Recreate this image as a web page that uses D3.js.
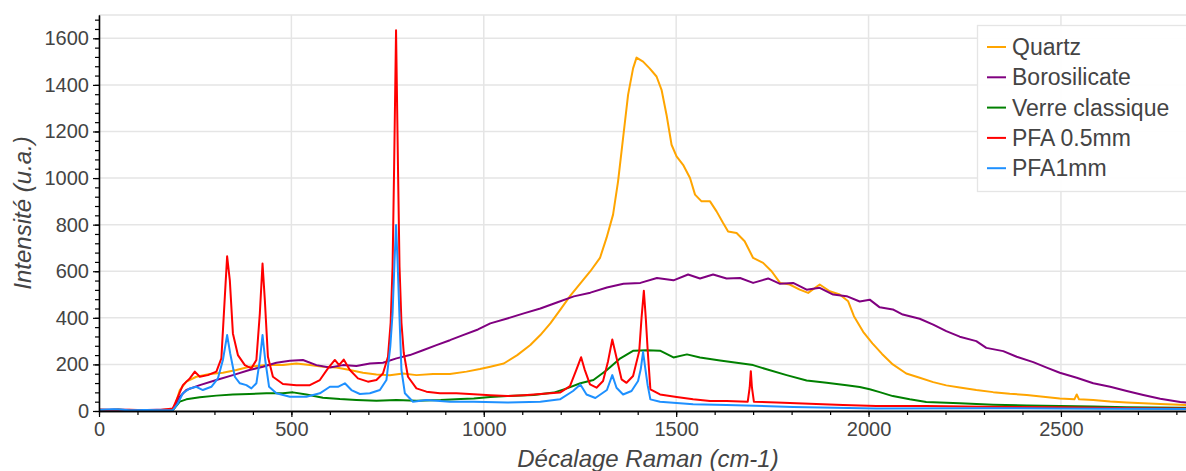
<!DOCTYPE html>
<html><head><meta charset="utf-8">
<script src="https://cdn.jsdelivr.net/npm/d3@7"></script>
<style>
html,body{margin:0;padding:0;background:#fff;}
svg{display:block;}
text{font-family:"Liberation Sans",Arial,Helvetica,sans-serif;}
</style></head>
<body><svg id="chart" width="1186" height="471"></svg>
<script>
// ---------- data ----------
const seriesNames = ["Quartz", "Borosilicate", "Verre classique", "PFA 0.5mm", "PFA1mm"];
const seriesColors = ["#FFA500", "#800080", "#008000", "#FF0000", "#1E90FF"];

const quartz = [[0,5],[50,3],[100,4],[150,3],[185,6],[195,10],[210,90],[227,126],[253,147],[288,159],[322,164],[357,176],[391,190],[435,197],[478,197],[513,204],[548,197],[582,190],[617,187],[652,176],[686,164],[721,157],[756,153],[790,161],[825,154],[868,159],[912,159],[955,169],[990,180],[1017,190],[1052,204],[1087,240],[1121,283],[1147,326],[1173,376],[1199,435],[1225,495],[1251,548],[1277,600],[1302,657],[1319,743],[1336,843],[1349,986],[1362,1171],[1375,1357],[1388,1471],[1397,1517],[1414,1500],[1431,1471],[1449,1436],[1462,1379],[1475,1271],[1488,1143],[1501,1093],[1518,1057],[1536,1000],[1549,929],[1566,900],[1588,900],[1605,857],[1622,807],[1635,771],[1657,764],[1678,729],[1700,657],[1726,636],[1748,600],[1770,550],[1795,543],[1821,521],[1843,507],[1873,543],[1899,514],[1925,500],[1947,471],[1962,407],[1986,340],[2010,290],[2035,245],[2063,200],[2098,161],[2133,143],[2168,124],[2202,110],[2237,101],[2280,90],[2324,81],[2367,74],[2411,69],[2454,61],[2497,54],[2535,50],[2541,71],[2547,50],[2584,47],[2628,41],[2671,37],[2714,33],[2758,30],[2810,27],[2840,25]];

const borosilicate = [[0,4],[50,6],[100,3],[150,5],[190,5],[210,61],[227,90],[262,111],[305,133],[348,154],[391,176],[426,190],[461,207],[496,216],[530,219],[565,197],[600,187],[634,197],[669,193],[704,204],[738,207],[773,226],[808,240],[842,261],[877,283],[912,304],[946,326],[985,350],[1017,376],[1061,397],[1104,419],[1147,440],[1190,466],[1234,492],[1277,508],[1320,530],[1363,546],[1407,550],[1450,571],[1493,561],[1531,586],[1562,569],[1596,586],[1631,569],[1666,571],[1700,550],[1739,569],[1770,546],[1804,550],[1839,521],[1873,529],[1908,500],[1943,493],[1977,470],[2003,478],[2029,445],[2063,436],[2089,414],[2133,396],[2168,371],[2202,343],[2237,319],[2280,300],[2306,271],[2350,257],[2385,233],[2428,210],[2463,186],[2497,164],[2541,143],[2584,119],[2628,104],[2671,86],[2714,69],[2758,53],[2810,39],[2840,35]];

const verreClassique = [[0,3],[50,5],[100,2],[150,4],[192,4],[210,40],[227,50],[262,59],[305,66],[348,71],[391,73],[435,76],[478,76],[504,80],[539,71],[582,57],[626,51],[669,47],[721,44],[773,47],[825,44],[888,47],[940,52],[974,54],[1017,60],[1061,64],[1130,69],[1182,79],[1216,97],[1251,119],[1285,133],[1320,176],[1355,226],[1389,259],[1424,261],[1458,259],[1493,230],[1528,243],[1562,230],[1614,217],[1657,207],[1700,197],[1735,179],[1787,154],[1839,131],[1891,121],[1943,111],[1977,103],[2003,93],[2029,81],[2063,64],[2107,50],[2150,39],[2237,33],[2324,27],[2411,24],[2497,21],[2584,19],[2671,16],[2810,14],[2840,14]];

const pfa05 = [[0,6],[40,3],[80,5],[120,3],[160,4],[192,11],[205,61],[218,111],[236,140],[249,169],[262,147],[283,154],[305,169],[318,226],[327,490],[333,664],[340,561],[348,333],[361,240],[379,197],[396,183],[409,219],[418,419],[425,633],[431,476],[439,233],[452,147],[478,116],[513,111],[548,111],[574,133],[595,183],[613,219],[624,197],[636,221],[652,176],[673,140],[699,126],[721,133],[738,161],[751,233],[758,380],[763,620],[767,1050],[772,1635],[777,1050],[781,620],[786,380],[792,250],[803,147],[825,97],[851,83],[886,76],[929,76],[974,72],[1017,68],[1061,64],[1104,68],[1147,73],[1198,79],[1224,107],[1241,179],[1253,231],[1262,179],[1276,114],[1293,100],[1310,129],[1323,214],[1334,307],[1345,229],[1358,136],[1371,121],[1388,150],[1404,257],[1410,400],[1416,516],[1421,400],[1426,260],[1433,93],[1458,71],[1501,60],[1544,50],[1588,43],[1631,43],[1686,40],[1691,100],[1694,171],[1697,100],[1702,40],[1761,36],[1847,31],[1934,26],[2020,21],[2150,21],[2300,18],[2500,16],[2700,12],[2840,10]];

const pfa1 = [[0,5],[40,7],[80,3],[120,4],[160,3],[192,4],[205,33],[218,76],[236,97],[253,104],[270,90],[292,104],[309,140],[322,219],[333,326],[341,247],[353,147],[366,119],[383,111],[396,97],[409,119],[418,219],[425,326],[432,219],[442,104],[461,76],[496,61],[539,61],[574,76],[600,104],[621,104],[639,119],[656,90],[678,73],[704,76],[730,90],[747,133],[757,276],[763,420],[768,640],[772,798],[776,640],[781,400],[786,176],[795,76],[816,40],[851,47],[912,40],[974,40],[1061,36],[1147,40],[1198,50],[1232,86],[1251,114],[1267,71],[1290,56],[1320,90],[1334,154],[1345,100],[1362,71],[1384,86],[1401,129],[1408,180],[1414,254],[1420,180],[1426,110],[1433,50],[1458,40],[1544,29],[1631,26],[1804,17],[2020,11],[2300,12],[2600,10],[2840,9]];

const seriesData = [quartz, borosilicate, verreClassique, pfa05, pfa1];

const xTicks = [0, 500, 1000, 1500, 2000, 2500];
const yTicks = [0, 200, 400, 600, 800, 1000, 1200, 1400, 1600];
const xMinorTicks = d3.range(0, 2801, 100);
const yMinorTicks = d3.range(0, 1701, 40);
const xTitle = "Décalage Raman (cm-1)";
const yTitle = "Intensité (u.a.)";

// ---------- layout ----------
const svg = d3.select("#chart");
const L = 99, T = 15, R = 1186, B = 411;
const x = d3.scaleLinear().domain([0, 2825]).range([L, R]);
const y = d3.scaleLinear().domain([0, 1700]).range([B, T]);
const textColor = "#444444";
const font = '"Liberation Sans",Arial,Helvetica,sans-serif';

svg.append("defs").append("clipPath").attr("id", "clip")
  .append("rect").attr("x", L).attr("y", T).attr("width", R - L + 20).attr("height", B - T);

// grid
const grid = svg.append("g");
grid.selectAll(".gx").data(xTicks).join("line")
  .attr("x1", d => x(d)).attr("x2", d => x(d)).attr("y1", T).attr("y2", B)
  .attr("stroke", "#e5e5e5").attr("stroke-width", 1.5);
grid.selectAll(".gy").data(yTicks).join("line")
  .attr("x1", L).attr("x2", R).attr("y1", d => y(d)).attr("y2", d => y(d))
  .attr("stroke", "#e5e5e5").attr("stroke-width", 1.5);
grid.append("line").attr("x1", L).attr("x2", R).attr("y1", T).attr("y2", T)
  .attr("stroke", "#e5e5e5").attr("stroke-width", 1.5);

// lines
const line = d3.line().x(d => x(d[0])).y(d => y(d[1])).curve(d3.curveLinear);
const lines = svg.append("g").attr("clip-path", "url(#clip)");
seriesData.forEach((s, i) => {
  lines.append("path").datum(s).attr("d", line)
    .attr("fill", "none").attr("stroke", seriesColors[i])
    .attr("stroke-width", 2).attr("stroke-linejoin", "round");
});

// axes
const xAxis = svg.append("g").attr("transform", `translate(0,${B})`)
  .call(d3.axisBottom(x).tickValues(xTicks).tickSizeOuter(0).tickSizeInner(6).tickPadding(5).tickFormat(d3.format("d")));
const xMinor = svg.append("g").attr("transform", `translate(0,${B})`)
  .call(d3.axisBottom(x).tickValues(xMinorTicks).tickSizeOuter(0).tickSizeInner(4).tickFormat(""));
const yAxis = svg.append("g").attr("transform", `translate(${L},0)`)
  .call(d3.axisLeft(y).tickValues(yTicks).tickSizeOuter(0).tickSizeInner(6).tickPadding(4).tickFormat(d3.format("d")));
const yMinor = svg.append("g").attr("transform", `translate(${L},0)`)
  .call(d3.axisLeft(y).tickValues(yMinorTicks).tickSizeOuter(0).tickSizeInner(4).tickFormat(""));

[xAxis, xMinor, yAxis, yMinor].forEach(g => {
  g.select(".domain").attr("stroke", "#000").attr("stroke-width", 1.3);
  g.selectAll(".tick line").attr("stroke", "#000").attr("stroke-width", 1.2);
  g.selectAll(".tick text").attr("fill", textColor).style("font-size", "20px").style("font-family", font);
});
xAxis.select(".domain").attr("d", `M${L},0.5H${R}`);

// axis titles
svg.append("text").attr("x", 648).attr("y", 467)
  .attr("text-anchor", "middle").attr("fill", textColor)
  .style("font-size", "24px").style("font-style", "italic").text(xTitle);
svg.append("text").attr("transform", `translate(31,${(T + B) / 2}) rotate(-90)`)
  .attr("text-anchor", "middle").attr("fill", textColor)
  .style("font-size", "24px").style("font-style", "italic").text(yTitle);

// legend
const lg = svg.append("g");
lg.append("rect").attr("x", 977.5).attr("y", 25.5).attr("width", 240).attr("height", 166)
  .attr("fill", "#fff").attr("fill-opacity", 0.95).attr("stroke", "#e5e5e5").attr("stroke-width", 1.3);
seriesNames.forEach((n, i) => {
  const cy = 47 + i * 30.3;
  lg.append("line").attr("x1", 987).attr("x2", 1006).attr("y1", cy).attr("y2", cy)
    .attr("stroke", seriesColors[i]).attr("stroke-width", 2);
  lg.append("text").attr("x", 1012).attr("y", cy).attr("dy", "0.35em")
    .attr("fill", textColor).style("font-size", "23px").text(n);
});
</script>
</body></html>
